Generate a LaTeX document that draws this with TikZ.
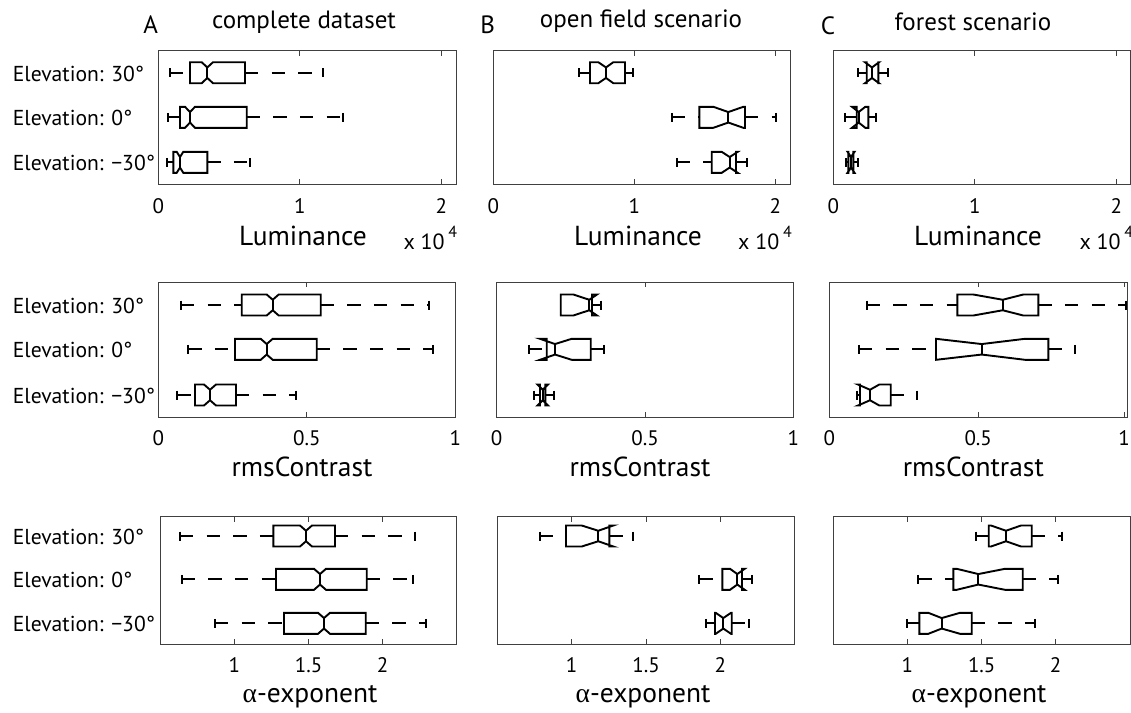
\documentclass[tikz,border=0pt]{standalone}
\usepackage{fontspec}
\setmainfont{PT Sans}
\newfontfamily\grk{Liberation Serif}
\tikzset{
  frame/.style={draw=black!75, line width=1pt},
  tickmk/.style={draw=black!75, line width=0.8pt},
  boxline/.style={draw=black, line width=1.9pt, line join=miter},
  whisk/.style={draw=black, line width=1.9pt, dash pattern=on 13.3pt off 13.3pt},
  capline/.style={draw=black, line width=1.9pt},
  ylab/.style={anchor=base west, inner sep=0pt, font=\fontsize{21.6}{22}\selectfont},
  ticklab/.style={anchor=base, inner sep=0pt, font=\fontsize{21}{21}\selectfont},
  axlab/.style={anchor=base, inner sep=0pt, font=\fontsize{27.5}{28}\selectfont},
  panlet/.style={anchor=base, inner sep=0pt, font=\fontsize{25}{25}\selectfont},
  pantitle/.style={anchor=base, inner sep=0pt, font=\fontsize{25}{25}\selectfont},
  scalelab/.style={anchor=base west, inner sep=0pt, font=\fontsize{22}{22}\selectfont},
}
% notched box: #1 row y, #2 lower whisker, #3 q1, #4 notch low, #5 median,
% #6 notch high, #7 q3, #8 upper whisker
\newcommand\bp[8]{%
  \draw[whisk] (#2,#1) -- (#3,#1);
  \draw[whisk] (#7,#1) -- (#8,#1);
  \draw[capline] (#2,{#1-4.5}) -- (#2,{#1+4.5});
  \draw[capline] (#8,{#1-4.5}) -- (#8,{#1+4.5});
  \draw[boxline, fill=white] (#3,{#1-10.5}) -- (#4,{#1-10.5}) -- (#5,{#1-5.25})
    -- (#6,{#1-10.5}) -- (#7,{#1-10.5}) -- (#7,{#1+10.5}) -- (#6,{#1+10.5})
    -- (#5,{#1+5.25}) -- (#4,{#1+10.5}) -- (#3,{#1+10.5}) -- cycle;
  \draw[boxline] (#5,{#1-5.25}) -- (#5,{#1+5.25});
}
% axes frame with inward ticks: #1 left, #2 top, #3 right, #4 bottom,
% #5 tick list x/label, #6 label baseline
\newcommand\axframe[6]{%
  \draw[frame] (#1,#2) rectangle (#3,#4);
  \foreach \tx/\tl in {#5} {
    \draw[tickmk] (\tx,#2) -- (\tx,{#2+5});
    \draw[tickmk] (\tx,#4) -- (\tx,{#4-5});
    \node[ticklab] at (\tx,#6) {\tl};
  }
}
\begin{document}
\begin{tikzpicture}[x=1pt, y=-1pt]
\useasboundingbox (0,0) rectangle (1131,712);

% column headings
\node[panlet] (letA) at (150.7,33.3) {A};
\node[pantitle] (titA) at (304,28.3) {complete dataset};
\node[panlet] (letB) at (487.7,33.3) {B};
\node[pantitle] (titB) at (641,27.3) {open field scenario};
\node[panlet] (letC) at (828,34) {C};
\node[pantitle] (titC) at (973,30) {forest scenario};

% row labels
\foreach \yc/\nm in {72.7/a, 305/b, 536/c} {
  \node[ylab] (e30\nm) at (12.7,{\yc+8.3}) {Elevation: 30°};
}
\foreach \yc/\nm in {117.3/a, 349.3/b, 579.3/c} {
  \node[ylab] (e0\nm) at (12.7,{\yc+8.3}) {Elevation: 0°};
}
\foreach \yc/\nm in {162.3/a, 395/b, 623.3/c} {
  \node[ylab] (em30\nm) at (12.7,{\yc+8.3}) {Elevation: −30°};
}

% ---------- row 1: luminance ----------
\axframe{158.3}{50.7}{456}{184.3}{158.3/0, 299.8/1, 441.3/2}{213.3}
\axframe{493.3}{50.7}{790.7}{184.3}{493.3/0, 634.3/1, 775.3/2}{213.3}
\axframe{833.3}{50.7}{1130}{184.3}{833.3/0, 974.8/1, 1116.3/2}{213.3}
\node[axlab] (lumA) at (303,245) {Luminance};
\node[axlab] (lumB) at (638,245) {Luminance};
\node[axlab] (lumC) at (978,245) {Luminance};
\foreach \sx/\nm in {403.3/A, 738/B, 1079.3/C} {
  \node[scalelab] (sc\nm) at (\sx,249) {x 10\,\raisebox{12pt}{\fontsize{16}{16}\selectfont 4}};
}
\bp{72.7}{170}{190}{201.7}{207.3}{213}{245}{323.3}
\bp{117.3}{167.7}{180}{185}{190}{195}{246.7}{343.3}
\bp{162.3}{166.7}{173.3}{176.7}{180}{183.3}{207.3}{250}
\bp{72.7}{579}{590}{598.3}{606}{613.3}{625}{633.3}
\bp{117.3}{671.7}{699.3}{713.3}{728.3}{743.3}{745}{776}
\bp{162.3}{676.7}{711.7}{721.7}{729.7}{737.7}{736}{746.7}
\bp{72.7}{858.3}{866.7}{865}{872}{879}{878.3}{888.3}
\bp{117.3}{845}{856.7}{852}{858.7}{865.3}{868.3}{876}
\bp{162.3}{846}{848.3}{847.5}{851}{854.5}{853.3}{857.7}

% ---------- row 2: rms contrast ----------
\axframe{158.3}{282.3}{455.3}{417.3}{158.3/0, 306.8/0.5, 455.3/1}{445}
\axframe{496.7}{282.3}{793.3}{417.3}{496.7/0, 645/0.5, 793.3/1}{445}
\axframe{829.3}{282.3}{1127}{417.3}{829.3/0, 978.2/0.5, 1124/1}{445}
\node[axlab] (rmsA) at (302,476.7) {rmsContrast};
\node[axlab] (rmsB) at (640,476.7) {rmsContrast};
\node[axlab] (rmsC) at (973.3,476.7) {rmsContrast};
\bp{305}{181}{241.7}{266.7}{272.7}{278.7}{320.7}{429}
\bp{349.3}{188.3}{235}{260.7}{266.7}{272.7}{316.7}{433.3}
\bp{395}{177.3}{195}{204}{210}{216}{236}{296}
\bp{305}{560.7}{560.7}{573.3}{589.3}{597}{592}{600.7}
\bp{349.3}{529}{546.7}{540}{555}{571.7}{590.7}{604}
\bp{395}{534}{540}{537.5}{542.7}{548}{545.3}{554}
\bp{305}{866.7}{957.3}{973.3}{1002.7}{1023.3}{1038.3}{1126}
\bp{349.3}{859}{936}{936}{981.7}{1025}{1048.3}{1075}
\bp{395}{856.7}{860}{858}{870}{879.3}{890.7}{917.3}

% ---------- row 3: alpha exponent ----------
\axframe{160}{516.7}{456.7}{644.3}{234.3/1, 308.5/1.5, 382.7/2}{672.3}
\axframe{497.7}{516.7}{794.3}{644.3}{571.7/1, 646/1.5, 720.3/2}{672.3}
\axframe{833.3}{516.7}{1130}{644.3}{907.3/1, 981.7/1.5, 1055.7/2}{672.3}
\node[axlab] (alA) at (310,702.7) {{\grk α}-exponent};
\node[axlab] (alB) at (643,702.7) {{\grk α}-exponent};
\node[axlab] (alC) at (979,702.7) {{\grk α}-exponent};
\bp{536}{180}{273.3}{300}{306}{312}{335}{415}
\bp{579.3}{181.7}{276}{314}{320}{326}{366.7}{413.3}
\bp{623.3}{215}{284}{318}{324}{330}{365.7}{425.7}
\bp{536}{540}{566}{581.7}{598.3}{613.3}{609.3}{633.3}
\bp{579.3}{699.3}{722.3}{730}{737.3}{744.7}{742}{752.3}
\bp{623.3}{706}{715}{715.7}{723.3}{731}{731.7}{749.3}
\bp{536}{976}{988.7}{991}{1006}{1021}{1031.7}{1061.7}
\bp{579.3}{918.3}{953.3}{956.7}{978.3}{1005}{1022.7}{1057.7}
\bp{623.3}{906.7}{919.3}{928.3}{941.7}{960}{971.7}{1035}
\end{tikzpicture}
\end{document}
